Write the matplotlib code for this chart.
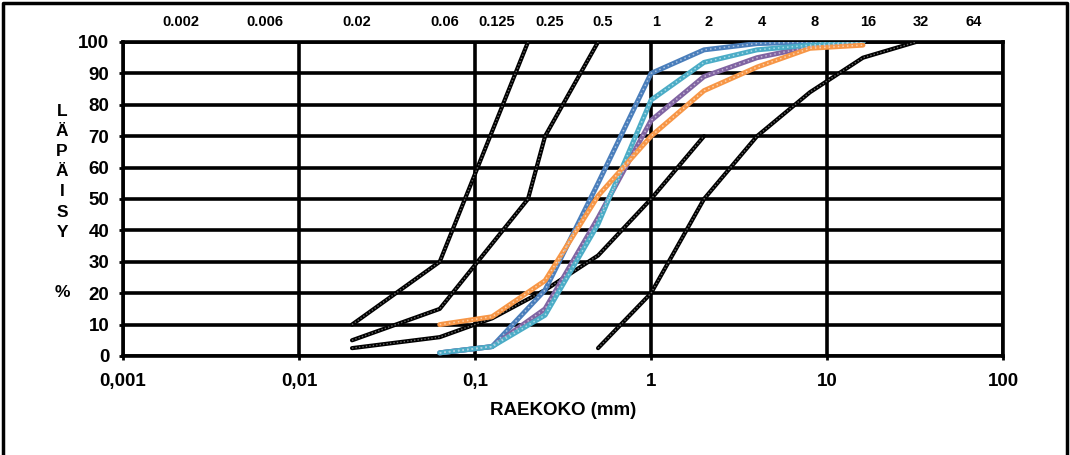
import matplotlib
matplotlib.use("Agg")
import matplotlib.pyplot as plt
from matplotlib.lines import Line2D
from matplotlib.transforms import ScaledTranslation

plt.rcParams['font.family'] = ['Liberation Sans', 'DejaVu Sans']
plt.rcParams['font.weight'] = 'bold'

# grading limit curves (black)
lim1_x = [0.02, 0.063, 0.2]
lim1_y = [10, 30, 100]
lim2_x = [0.02, 0.063, 0.2, 0.25, 0.5]
lim2_y = [5, 15, 50, 70, 100]
lim3_x = [0.02, 0.063, 0.125, 0.25, 0.5, 1, 2]
lim3_y = [2.5, 6, 12, 21, 32, 50, 70]
lim4_x = [0.5, 1, 2, 4, 8, 16, 32]
lim4_y = [2.5, 20, 50, 70, 84, 95, 100]

# measured samples (sieve sizes, mm)
sieve = [0.063, 0.125, 0.25, 0.5, 1, 2, 4, 8, 16]
blue = [1, 3, 21, 55, 90, 97.5, 99.5, 100, 100]
purple = [1, 3, 15, 44, 75, 89, 95, 98.5, 100]
teal = [1, 3, 13, 42, 81.5, 93.5, 97.5, 99, 100]
orange = [10, 12.5, 24, 51, 70, 84.5, 92, 98, 99]

top_vals = [0.002, 0.006, 0.02, 0.063, 0.125, 0.25, 0.5, 1, 2, 4, 8, 16, 32, 64]
top_labels = ['0.002', '0.006', '0.02', '0.06', '0.125', '0.25', '0.5', '1', '2', '4', '8', '16', '32', '64']
x_ticks = [0.001, 0.01, 0.1, 1, 10, 100]
x_tick_labels = ['0,001', '0,01', '0,1', '1', '10', '100']

fig = plt.figure(figsize=(10.7, 4.55), dpi=100)
fig.patch.set_facecolor('white')
ax = fig.add_axes([0.115, 0.2176, 0.8224, 0.6901])

# limit curves: black with a grey dotted overlay
for xs, ys in [(lim1_x, lim1_y), (lim2_x, lim2_y), (lim3_x, lim3_y), (lim4_x, lim4_y)]:
    ax.plot(xs, ys, color='black', lw=3.0, zorder=3, solid_capstyle='round')
    ax.plot(xs, ys, color='#6a6a6a', lw=1.0, ls=(0, (1, 1.5)), zorder=3.1)

# sample curves: solid colour with a lighter dotted overlay
samples = [(blue, '#4a7ebb', '#a9c2e0'),
           (purple, '#8064a2', '#c2b4d3'),
           (teal, '#4bacc6', '#a9dbe8'),
           (orange, '#f79646', '#fcd0aa')]
for vals, col, light in samples:
    ax.plot(sieve, vals, color=col, lw=3.6, zorder=4, solid_capstyle='round')
    ax.plot(sieve, vals, color=light, lw=1.1, ls=(0, (1, 2)), zorder=4.1)

ax.set_xscale('log')
ax.set_xlim(0.001, 100)
ax.set_ylim(0, 100)
ax.set_xticks(x_ticks)
ax.set_xticklabels(x_tick_labels)
ax.minorticks_off()
ax.set_yticks(range(0, 101, 10))
ax.tick_params(axis='both', labelsize=13.5, length=3, width=2, color='black')
ax.tick_params(axis='x', pad=9)
ax.tick_params(axis='y', pad=7)
for lbl in ax.get_xticklabels() + ax.get_yticklabels():
    lbl.set_fontweight('bold')

ax.grid(True, color='black', lw=2.6)
ax.set_axisbelow(True)
for s in ax.spines.values():
    s.set_linewidth(2.6)

ax.set_xlabel('RAEKOKO (mm)', fontsize=13.5, fontweight='bold', labelpad=9)

# sieve sizes along the top
offset = ax.get_xaxis_transform() + ScaledTranslation(5 / 100, 0, fig.dpi_scale_trans)
for v, t in zip(top_vals, top_labels):
    ax.text(v, 1.065, t, transform=offset, ha='center', va='center',
            fontsize=10.5, fontweight='bold')

# vertical y label
fig.text(0.058, 0.556, 'L\nÄ\nP\nÄ\nI\nS\nY\n\n\n%', ha='center', va='center',
         fontsize=12.5, fontweight='bold', linespacing=1.42)

# outer frame (left, top, right)
fig.add_artist(Line2D([0.003, 0.003, 0.997, 0.997], [0.005, 0.994, 0.994, 0.005],
                      transform=fig.transFigure, color='black', lw=2.5))

fig.savefig('out.png', dpi=100, facecolor='white')
